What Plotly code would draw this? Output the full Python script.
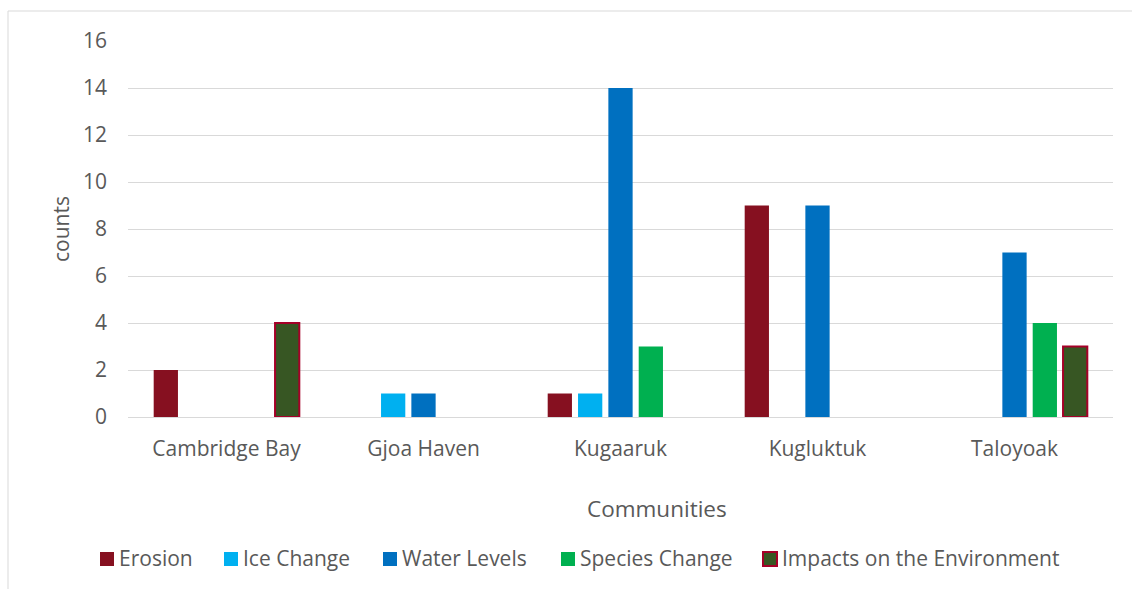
import plotly.graph_objects as go

communities = ["Cambridge Bay", "Gjoa Haven", "Kugaaruk", "Kugluktuk", "Taloyoak"]
erosion = [2, 0, 1, 9, 0]
ice_change = [0, 1, 1, 0, 0]
water_levels = [0, 1, 14, 9, 7]
species_change = [0, 0, 3, 0, 4]
impacts = [4, 0, 0, 0, 3]
y_ticks = [0, 2, 4, 6, 8, 10, 12, 14, 16]

series_names = ["Erosion", "Ice Change", "Water Levels", "Species Change", "Impacts on the Environment"]
series_values = [erosion, ice_change, water_levels, species_change, impacts]
fill_colors = ["#861020", "#00B0F0", "#0070C0", "#00B050", "#375623"]
line_colors = ["#861020", "#00B0F0", "#0070C0", "#00B050", "#A50028"]

FONT = "Open Sans"
TXT = "#595959"

W, H = 1132, 589
L, R, T, B = 128, 19, 41, 172
pw, ph = W - L - R, H - T - B


def px(x):
    return (x - L) / pw


def py(y):
    return (H - B - y) / ph


fig = go.Figure()
for name, vals, fill, line in zip(series_names, series_values, fill_colors, line_colors):
    outlined = line != fill
    fig.add_trace(go.Bar(
        name=name, x=communities, y=vals, showlegend=False,
        marker=dict(color=fill,
                    line=dict(color=line, width=[2 if (outlined and v > 0) else 0 for v in vals])),
    ))

# manual legend (Excel-style compact legend)
legend_x = [100, 224, 383, 561, 763]
legend_y = 559
sym = 14
shapes = [dict(type="rect", xref="paper", yref="paper",
               x0=px(8), x1=px(1145), y0=py(600), y1=py(11),
               line=dict(color="#D9D9D9", width=1), fillcolor="rgba(0,0,0,0)", layer="below")]
annotations = []
for name, fill, line, lx in zip(series_names, fill_colors, line_colors, legend_x):
    outlined = line != fill
    shapes.append(dict(type="rect", xref="paper", yref="paper",
                       x0=px(lx), x1=px(lx + sym), y0=py(legend_y + sym / 2), y1=py(legend_y - sym / 2),
                       fillcolor=fill, line=dict(color=line, width=2 if outlined else 0)))
    annotations.append(dict(text=name, xref="paper", yref="paper", x=px(lx + sym + 3), y=py(legend_y - 1),
                            xanchor="left", yanchor="middle", showarrow=False,
                            font=dict(family=FONT, size=21, color=TXT)))

annotations += [
    dict(text="Communities", xref="paper", yref="paper", x=px(657), y=py(508),
         xanchor="center", yanchor="middle", showarrow=False,
         font=dict(family=FONT, size=22.5, color=TXT)),
    dict(text="counts", xref="paper", yref="paper", x=px(61), y=py(229),
         xanchor="center", yanchor="middle", showarrow=False, textangle=-90,
         font=dict(family=FONT, size=21, color=TXT)),
]

fig.update_layout(
    width=W, height=H,
    margin=dict(l=L, r=R, t=T, b=B),
    paper_bgcolor="white", plot_bgcolor="white",
    barmode="group", bargap=0.23, bargroupgap=0.2,
    font=dict(family=FONT, size=21, color=TXT),
    showlegend=False,
    xaxis=dict(showgrid=False, showline=True, linecolor="#D9D9D9", linewidth=1,
               ticks="", ticklabelstandoff=13, tickfont=dict(size=21, color=TXT)),
    yaxis=dict(range=[0, 16], tickvals=y_ticks, showgrid=True, gridcolor="#D9D9D9", gridwidth=1,
               zeroline=False, showline=False, ticks="", ticklabelstandoff=20,
               tickfont=dict(size=21, color=TXT)),
    shapes=shapes,
    annotations=annotations,
)

fig.write_html("out.html", config={"displayModeBar": False},
               post_script="document.body.style.margin='0';document.body.style.overflow='hidden';")
